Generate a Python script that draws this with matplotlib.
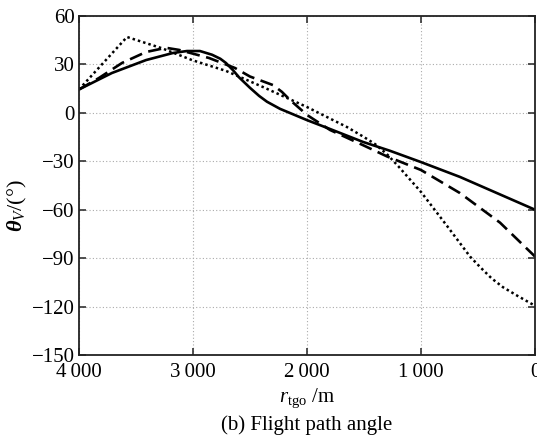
import matplotlib
matplotlib.use("Agg")
import matplotlib.pyplot as plt
import numpy as np

plt.rcParams['font.family'] = ['Liberation Serif', 'DejaVu Serif']
plt.rcParams['mathtext.fontset'] = 'custom'
plt.rcParams['mathtext.rm'] = 'Liberation Serif'
plt.rcParams['mathtext.it'] = 'Liberation Serif:italic'
plt.rcParams['mathtext.bf'] = 'Liberation Serif:bold'
plt.rcParams['mathtext.bfit'] = 'Liberation Serif:italic:bold'

# Solid curve
solid_x = [4000, 3711, 3412, 3175, 3053, 2939, 2833, 2760, 2711, 2650, 2596, 2500, 2420, 2351, 2237, 2000, 1798, 1509, 1272, 1000, 658, 0]
solid_y = [14.5, 24.7, 32.7, 37.1, 38.3, 38.3, 36.0, 33.5, 30.9, 26.5, 22.0, 15.5, 10.5, 6.9, 2.5, -4.5, -10.0, -18.0, -23.5, -30.5, -39.7, -60.0]

# Dashed curve
dash_x = [4000, 3825, 3623, 3412, 3237, 3123, 2860, 2632, 2500, 2298, 2220, 2149, 2000, 1798, 1509, 1298, 1000, 658, 307, 0]
dash_y = [14.5, 21.6, 30.9, 37.7, 40.3, 39.0, 34.0, 27.8, 22.5, 17.2, 13.0, 8.0, -1.3, -10.6, -20.0, -27.0, -35.4, -49.7, -68.0, -89.0]

# Dotted curve
dot_x = [4000, 3579, 3272, 3009, 2711, 2386, 2000, 1649, 1500, 1400, 1300, 1200, 1100, 1000, 772, 570, 482, 381, 281, 150, 0]
dot_y = [14.5, 47.0, 40.0, 32.7, 26.0, 16.0, 3.6, -8.8, -15.0, -19.5, -25.5, -33.0, -41.0, -49.0, -70.0, -89.0, -95.5, -102.5, -108.0, -113.5, -119.5]

xticks = [4000, 3000, 2000, 1000, 0]
xtick_labels = ['4\u2009000', '3\u2009000', '2\u2009000', '1\u2009000', '0']
yticks = [60, 30, 0, -30, -60, -90, -120, -150]

fig = plt.figure(figsize=(5.37, 4.38), dpi=100)
ax = fig.add_axes([79/537, 1-355/438, (535-79)/537, (355-16)/438])

ax.plot(solid_x, solid_y, color='black', lw=1.9, ls='-')
ax.plot(dash_x, dash_y, color='black', lw=1.9, ls=(0, (5, 2.5)))
ax.plot(dot_x, dot_y, color='black', lw=1.8, ls=(0, (1, 1.2)))

ax.set_xlim(4000, 0)
ax.set_ylim(-150, 60)
ax.set_xticks(xticks)
ax.set_xticklabels(xtick_labels)
ax.set_yticks(yticks)
ax.set_yticklabels([str(v).replace('-', '\u2212') for v in yticks])

ax.grid(True, color='#aaaaaa', ls=(0, (1, 2)), lw=0.8)
ax.tick_params(direction='in', length=5, width=1.2, top=True, right=True,
               labelsize=15, colors='#333333', labelcolor='black')
ax.tick_params(axis='x', pad=6)
ax.tick_params(axis='y', pad=3)
for s in ax.spines.values():
    s.set_linewidth(1.3)
    s.set_color('#222222')

ax.set_xlabel(r'$r_{\rm tgo}$ /m', fontsize=15, labelpad=3)
fig.text(17/537, 1-206/438, r'$\mathbfit{\theta}_{V}$/(°)', rotation=90,
         ha='center', va='center', fontsize=16)
fig.text((79+535)/2/537, 1-425/438, '(b) Flight path angle', ha='center', va='center', fontsize=15)

fig.savefig('out.png', dpi=100)
